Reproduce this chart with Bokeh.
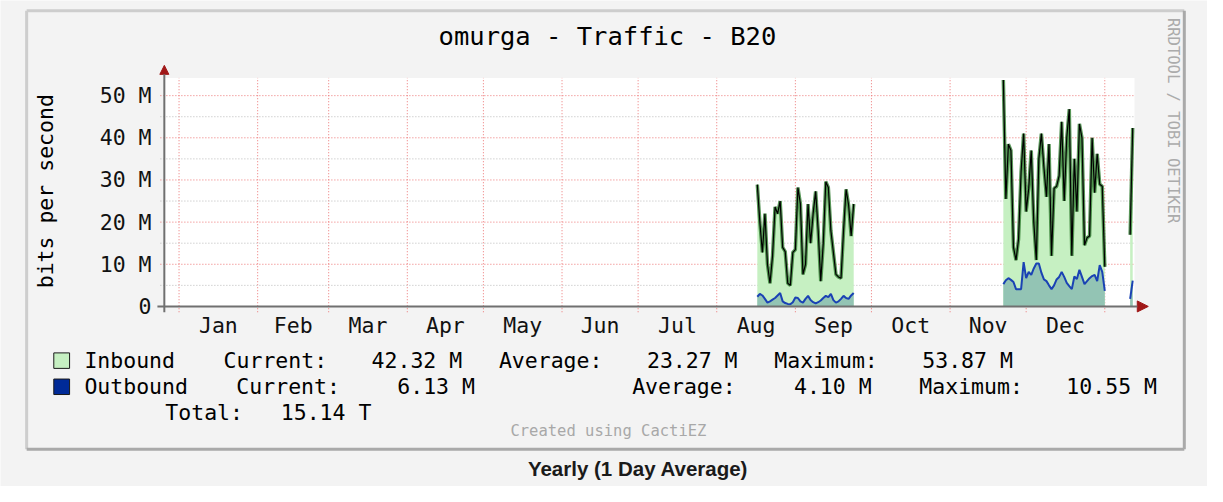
import math
import pandas as pd
from bokeh.plotting import figure
from bokeh.models import Range1d, Arrow, NormalHead
from bokeh.core.properties import value
from bokeh.embed import file_html
from bokeh.resources import INLINE

# ---------------- data (Mbit/s, daily averages) ----------------
months = ["Jan", "Feb", "Mar", "Apr", "May", "Jun",
          "Jul", "Aug", "Sep", "Oct", "Nov", "Dec"]
year_start = "2013-01-01"

aug_start = "2013-08-17"
aug_in = [28.9, 20.0, 12.8, 22.0, 10.0, 5.5, 12.0, 23.6, 22.0, 25.0,
          14.0, 13.0, 5.5, 5.0, 12.8, 13.5, 28.2, 24.3, 7.6, 10.0,
          24.3, 15.0, 22.0, 27.3, 18.0, 6.0, 15.0, 29.6, 28.2, 18.0,
          12.8, 7.6, 7.0, 6.7, 18.0, 27.8, 24.0, 16.7, 24.3]
aug_out = [2.3, 3.0, 2.6, 1.8, 0.9, 1.2, 1.6, 2.0, 2.6, 3.2,
           1.2, 0.8, 0.6, 0.5, 1.0, 2.1, 2.0, 1.2, 0.9, 1.8,
           2.5, 1.5, 1.0, 0.7, 1.0, 1.4, 2.0, 2.5, 2.2, 3.0,
           1.5, 0.9, 1.2, 1.8, 2.5, 2.0, 1.8, 2.6, 3.2]

nov_start = "2013-11-22"
nov_in = [53.7, 25.5, 38.5, 37.0, 14.0, 11.0, 16.0, 32.0, 41.0, 22.5,
          28.0, 37.0, 20.0, 11.0, 35.0, 41.0, 33.0, 26.0, 38.5, 12.0,
          28.0, 28.5, 31.0, 43.8, 25.0, 40.0, 46.8, 12.0, 35.0, 22.5,
          43.3, 40.0, 14.5, 16.3, 16.7, 40.0, 27.0, 36.2, 29.0, 28.5,
          9.4]
nov_out = [5.3, 6.2, 6.7, 6.3, 5.8, 4.1, 4.1, 4.1, 10.5, 6.7,
           8.2, 7.5, 9.0, 10.2, 10.2, 8.0, 6.4, 6.0, 5.0, 4.1,
           5.0, 6.4, 7.0, 8.2, 7.0, 5.6, 4.8, 4.1, 7.1, 6.5,
           8.7, 7.0, 5.3, 6.0, 6.7, 7.2, 7.5, 6.0, 9.8, 8.2,
           3.7]

jan_start = "2014-01-11"
jan_in = [17.0, 42.32]
jan_out = [1.8, 6.13]

y_ticks = [0, 10, 20, 30, 40, 50]
y_minor = [5, 15, 25, 35, 45]
y_labels = ["0", "10 M", "20 M", "30 M", "40 M", "50 M"]

legend_rows = [
    # (label, current, average, maximum)
    ("Inbound", "42.32 M", "23.27 M", "53.87 M"),
    ("Outbound", "6.13 M", "4.10 M", "10.55 M"),
]
total_text = "15.14 T"

# ---------------- coordinate helpers ----------------
base = pd.Timestamp(year_start)


def day_index(start, n):
    return [(d - base).days for d in pd.date_range(start, periods=n)]


month_starts = [(pd.Timestamp(2013, m, 1) - base).days for m in range(1, 13)] + [365]
month_mids = [(month_starts[i] + month_starts[i + 1]) / 2 for i in range(12)]

# data window of the graph area and its place in a 1223 x 502 picture
X0, X1 = -5.8, 376.7
Y0, Y1 = 0.0, 54.2
FL, FR, FT, FB = 166, 1149, 80, 316
REF_W, REF_H = 1223, 502
W, H = 1207, 486


def px2x(px):
    return X0 + (px - FL) * (X1 - X0) / (FR - FL)


def px2y(py):
    return Y0 + (FB - py) * (Y1 - Y0) / (FB - FT)


p = figure(width=W, height=H,
           x_range=Range1d(px2x(0), px2x(REF_W)),
           y_range=Range1d(px2y(REF_H), px2y(0)),
           output_backend="svg", toolbar_location=None, title=None,
           x_axis_location=None, y_axis_location=None,
           min_border=0, min_border_left=0, min_border_right=0,
           min_border_top=0, min_border_bottom=0)
p.background_fill_color = "#f3f3f3"
p.border_fill_color = "#f3f3f3"
p.outline_line_color = None
p.xgrid.visible = False
p.ygrid.visible = False

MONO = "DejaVu Sans Mono"
FS = "21.5px"


def txt(text, px, py, size=FS, color="#000000", align="left",
        baseline="middle", font=MONO, angle=0.0, style="normal"):
    p.text(x=[px2x(px)], y=[px2y(py)], text=[text], text_font=value(font),
           text_font_size=size, text_color=color, text_align=align,
           text_baseline=baseline, angle=angle, text_font_style=style)


# ---------------- outer box ----------------
p.segment(x0=[px2x(26.5), px2x(26.5)], y0=[px2y(10.5), px2y(10.5)],
          x1=[px2x(1199.5), px2x(26.5)], y1=[px2y(10.5), px2y(463.5)],
          line_color="#cdcdcd", line_width=3)
p.segment(x0=[px2x(26.5), px2x(1199.5)], y0=[px2y(463.5), px2y(10.5)],
          x1=[px2x(1199.5), px2x(1199.5)], y1=[px2y(463.5), px2y(463.5)],
          line_color="#a9a9a9", line_width=3)

# ---------------- graph area ----------------
p.quad(left=[X0], right=[X1], bottom=[Y0], top=[Y1], fill_color="white", line_color=None)

GRID_RED = "#ec7474"
GRID_GRAY = "#b9b9b9"
# vertical month grid (with short ticks below the axis)
p.segment(x0=month_starts, x1=month_starts, y0=[px2y(322)] * len(month_starts),
          y1=[Y1] * len(month_starts), line_color=GRID_RED, line_width=1, line_dash="1 2")
# horizontal grid
p.segment(x0=[px2x(162)] * len(y_minor), x1=[X1] * len(y_minor), y0=y_minor, y1=y_minor,
          line_color=GRID_GRAY, line_width=1, line_dash="1 2")
p.segment(x0=[px2x(162)] * (len(y_ticks) - 1), x1=[X1] * (len(y_ticks) - 1),
          y0=y_ticks[1:], y1=y_ticks[1:],
          line_color=GRID_RED, line_width=1, line_dash="1 2")

# ---------------- data marks ----------------
GREEN_FILL = "#c6f0c2"
OUT_FILL = "#93c4b4"
segments = [(aug_start, aug_in, aug_out), (nov_start, nov_in, nov_out),
            (jan_start, jan_in, jan_out)]
for start, vin, vout in segments:
    xs = day_index(start, len(vin))
    p.varea(x=xs, y1=[0] * len(xs), y2=vin, fill_color=GREEN_FILL)
    p.varea(x=xs, y1=[0] * len(xs), y2=vout, fill_color=OUT_FILL)
    p.line(xs, vin, line_color="#2f7d2f", line_width=3.5, line_alpha=0.8)
    p.line(xs, vin, line_color="#000000", line_width=1.2)
    p.line(xs, vout, line_color="#1a42b4", line_width=2)

# ---------------- axes with arrow heads ----------------
AX = "#707070"
ARR = "#a01818"
p.add_layout(Arrow(x_start=px2x(166), y_start=px2y(322), x_end=px2x(166), y_end=px2y(67),
                   line_color=AX, line_width=2,
                   end=NormalHead(size=9, fill_color=ARR, line_color=ARR)))
p.add_layout(Arrow(x_start=px2x(159), y_start=Y0, x_end=px2x(1163), y_end=Y0,
                   line_color=AX, line_width=2,
                   end=NormalHead(size=11, fill_color=ARR, line_color=ARR)))

# tick labels
p.text(x=[px2x(153)] * len(y_ticks), y=y_ticks, text=y_labels, text_font=value(MONO),
       text_font_size=FS, text_color="#111111", text_align="right", text_baseline="middle")
p.text(x=month_mids, y=[px2y(335.5)] * len(months), text=months, text_font=value(MONO),
       text_font_size=FS, text_color="#111111", text_align="center",
       text_baseline="middle")

# ---------------- texts ----------------
txt("omurga - Traffic - B20", 615, 37, size="25.5px", align="center")
txt("bits per second", 46, 197, align="center", angle=math.pi / 2)
txt("RRDTOOL / TOBI OETIKER", 1188, 18, size="15.5px", color="#ababab",
    angle=-math.pi / 2)

# legend squares
p.quad(left=[px2x(54), px2x(54)], right=[px2x(70), px2x(70)],
       top=[px2y(364), px2y(391)], bottom=[px2y(380), px2y(407)],
       fill_color=[GREEN_FILL, "#002a97"], line_color="#1a1a1a", line_width=1)

R1, R2, R3 = 372, 399, 426
r1, r2 = legend_rows
txt(r1[0], 85, R1)
txt("Current:", 226, R1)
txt(r1[1], 376, R1)
txt("Average:", 505, R1)
txt(r1[2], 655, R1)
txt("Maximum:", 784, R1)
txt(r1[3], 934, R1)

txt(r2[0], 85, R2)
txt("Current:", 239, R2)
txt(r2[1], 402, R2)
txt("Average:", 640, R2)
txt(r2[2], 804, R2)
txt("Maximum:", 931, R2)
txt(r2[3], 1080, R2)

txt("Total:", 167, R3)
txt(total_text, 284, R3)

txt("Created using CactiEZ", 616, 444.5, size="15.5px", color="#a8a8a8", align="center")
txt("Yearly (1 Day Average)", 646, 483, size="20.5px", color="#1a1a1a", align="center",
    font="Liberation Sans", style="bold")

html = file_html(p, INLINE)
html = html.replace("<body>", '<body style="background:#f3f3f3">', 1)
open("out.html", "w").write(html)
